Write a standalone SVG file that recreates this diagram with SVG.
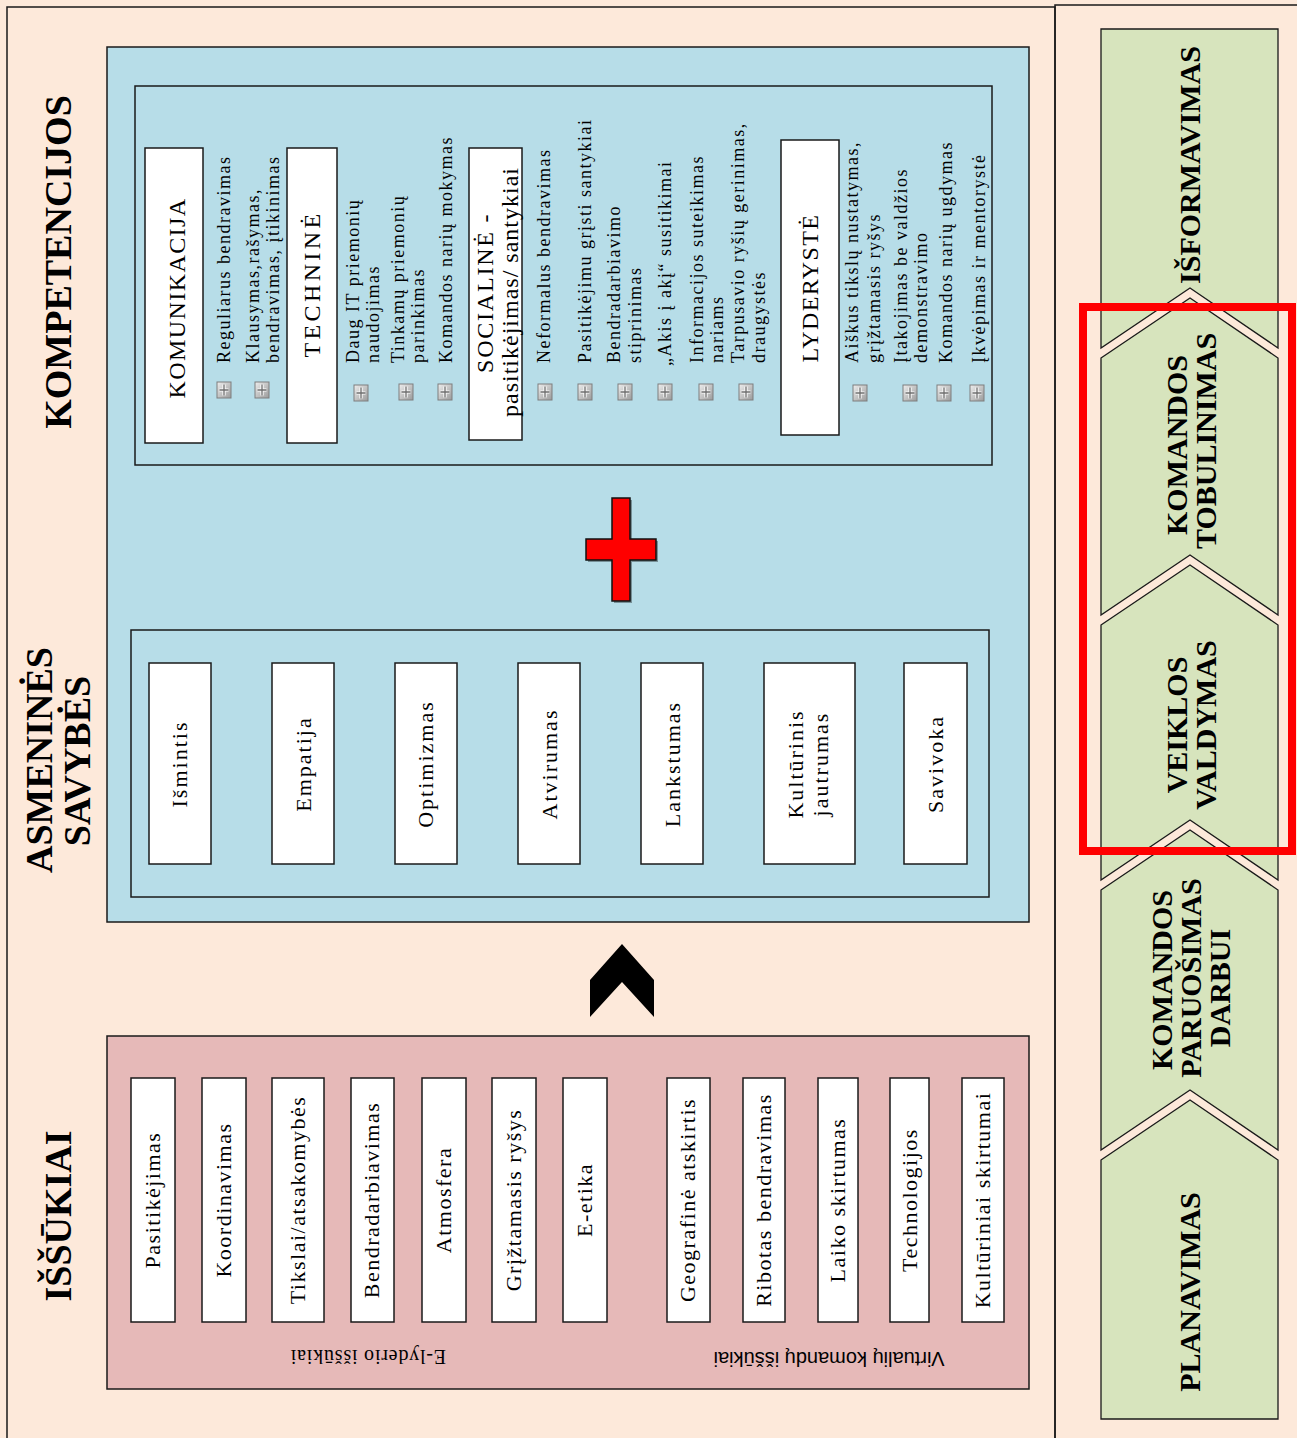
<svg xmlns="http://www.w3.org/2000/svg" width="1297" height="1438" viewBox="0 0 1297 1438">
  <style>
    .serif { font-family: "Liberation Serif", "Times New Roman", serif; fill: #000; }
    .item { font-size: 18px; letter-spacing: 1.5px; }
    .hdr { font-size: 24px; letter-spacing: 1.4px; }
    .trait { font-size: 22px; letter-spacing: 2px; text-anchor: middle; }
    .chal { font-size: 22px; letter-spacing: 1.5px; text-anchor: middle; }
    .title { font-size: 38px; font-weight: bold; text-anchor: middle; }
    .step { font-size: 30px; font-weight: bold; text-anchor: middle; }
    .mid { text-anchor: middle; }
    .wbox { fill: #fff; stroke: #1a1a1a; stroke-width: 1.5; }
    .frame { fill: none; stroke: #1a1a1a; stroke-width: 1.5; }
    .stepShape { fill: #D7E4BD; stroke: #1a1a1a; stroke-width: 1.3; }
  </style>
  <defs>
    <linearGradient id="iconFill" x1="0" y1="0" x2="1" y2="1">
      <stop offset="0" stop-color="#eeeeee"/>
      <stop offset="1" stop-color="#9a9a9a"/>
    </linearGradient>
    <g id="plusIcon">
      <rect x="-7" y="-8" width="14" height="16" fill="url(#iconFill)" stroke="#7e7e7e" stroke-width="1"/>
      <path d="M-4.5 0H4.5M0 -5.5V5.5" stroke="#fdfdfd" stroke-width="3.2"/>
      <path d="M-4.5 0H4.5M0 -5.5V5.5" stroke="#6e6e6e" stroke-width="1.3"/>
    </g>
  </defs>

  <!-- page background -->
  <rect x="0" y="0" width="1297" height="1438" fill="#FDE9DA"/>
  <rect x="7" y="7" width="1048" height="1440" class="frame"/>
  <rect x="1055" y="5" width="250" height="1440" class="frame"/>

  <!-- side titles -->
  <g id="titles">
    <text class="serif title" transform="translate(71,262) rotate(-90)">KOMPETENCIJOS</text>
    <text class="serif title" transform="translate(52,760) rotate(-90)">ASMENINĖS</text>
    <text class="serif title" transform="translate(90,761) rotate(-90)">SAVYBĖS</text>
    <text class="serif title" transform="translate(71,1216) rotate(-90)">IŠŠŪKIAI</text>
  </g>

  <!-- blue panel: competencies and personal traits -->
  <g id="panel-blue">
    <rect x="107" y="47" width="922" height="875" fill="#B7DDE8" stroke="#1a1a1a" stroke-width="1.5"/>
  </g>

  <g id="competencies">
    <rect x="135" y="86" width="857" height="379" class="frame"/>

    <g id="komunikacija">
      <rect x="145" y="148" width="58" height="295" class="wbox"/>
      <text class="serif hdr mid" transform="translate(185,298) rotate(-90)">KOMUNIKACIJA</text>
      <use href="#plusIcon" x="224" y="390"/>
      <text class="serif item" transform="translate(230,363) rotate(-90)">Reguliarus bendravimas</text>
      <use href="#plusIcon" x="262" y="390"/>
      <text class="serif item" transform="translate(259,363) rotate(-90)">Klausymas,rašymas,</text>
      <text class="serif item" transform="translate(279,363) rotate(-90)">bendravimas, įtikinimas</text>
    </g>

    <g id="technine">
      <rect x="287" y="148" width="50" height="295" class="wbox"/>
      <text class="serif hdr mid" transform="translate(320,285) rotate(-90)" textLength="145" lengthAdjust="spacing">TECHNINĖ</text>
      <use href="#plusIcon" x="361" y="393"/>
      <text class="serif item" transform="translate(359,363) rotate(-90)">Daug IT priemonių</text>
      <text class="serif item" transform="translate(379,363) rotate(-90)">naudojimas</text>
      <use href="#plusIcon" x="406" y="392"/>
      <text class="serif item" transform="translate(404,363) rotate(-90)">Tinkamų priemonių</text>
      <text class="serif item" transform="translate(424,363) rotate(-90)">parinkimas</text>
      <use href="#plusIcon" x="445" y="392"/>
      <text class="serif item" transform="translate(452,363) rotate(-90)">Komandos narių mokymas</text>
    </g>

    <g id="socialine">
      <rect x="469" y="148" width="53" height="292" class="wbox"/>
      <text class="serif hdr mid" transform="translate(493,293) rotate(-90)" textLength="160" lengthAdjust="spacing">SOCIALINĖ -</text>
      <text class="serif hdr mid" transform="translate(518,292) rotate(-90)" style="letter-spacing:1px">pasitikėjimas/ santykiai</text>
      <use href="#plusIcon" x="545" y="392"/>
      <text class="serif item" transform="translate(550,363) rotate(-90)">Neformalus bendravimas</text>
      <use href="#plusIcon" x="585" y="392"/>
      <text class="serif item" transform="translate(591,363) rotate(-90)">Pasitikėjimu grįsti santykiai</text>
      <use href="#plusIcon" x="625" y="392"/>
      <text class="serif item" transform="translate(620,363) rotate(-90)">Bendradarbiavimo</text>
      <text class="serif item" transform="translate(641,363) rotate(-90)">stiprinimas</text>
      <use href="#plusIcon" x="665" y="392"/>
      <text class="serif item" transform="translate(671,366) rotate(-90)">„Akis į akį“ susitikimai</text>
      <use href="#plusIcon" x="706" y="392"/>
      <text class="serif item" transform="translate(703,363) rotate(-90)">Informacijos suteikimas</text>
      <text class="serif item" transform="translate(723,363) rotate(-90)">nariams</text>
      <use href="#plusIcon" x="746" y="392"/>
      <text class="serif item" transform="translate(744,363) rotate(-90)">Tarpusavio ryšių gerinimas,</text>
      <text class="serif item" transform="translate(765,363) rotate(-90)">draugystės</text>
    </g>

    <g id="lyderyste">
      <rect x="781" y="140" width="58" height="295" class="wbox"/>
      <text class="serif hdr mid" transform="translate(818,288) rotate(-90)">LYDERYSTĖ</text>
      <use href="#plusIcon" x="860" y="393"/>
      <text class="serif item" transform="translate(858,363) rotate(-90)">Aiškus tikslų nustatymas,</text>
      <text class="serif item" transform="translate(880,363) rotate(-90)">grįžtamasis ryšys</text>
      <use href="#plusIcon" x="910" y="393"/>
      <text class="serif item" transform="translate(907,363) rotate(-90)">Įtakojimas be valdžios</text>
      <text class="serif item" transform="translate(927,363) rotate(-90)">demonstravimo</text>
      <use href="#plusIcon" x="944" y="393"/>
      <text class="serif item" transform="translate(952,363) rotate(-90)">Komandos narių ugdymas</text>
      <use href="#plusIcon" x="977" y="393"/>
      <text class="serif item" transform="translate(985,363) rotate(-90)">Įkvėpimas ir mentorystė</text>
    </g>
  </g>

  <!-- red plus sign -->
  <g id="plus-sign">
    <path d="M614,500H632V541H658V562H632V603H614V562H588V541H614Z" fill="#000" opacity="0.35"/>
    <path d="M612,498H630V539H656V560H630V601H612V560H586V539H612Z" fill="#FF0000" stroke="#111" stroke-width="1.5"/>
  </g>

  <g id="traits">
    <rect x="131" y="630" width="858" height="267" class="frame"/>
    <g id="ismintis"><rect x="149" y="663" width="62" height="201" class="wbox"/><text class="serif trait" transform="translate(187,764) rotate(-90)">Išmintis</text></g>
    <g id="empatija"><rect x="272" y="663" width="62" height="201" class="wbox"/><text class="serif trait" transform="translate(311,764) rotate(-90)">Empatija</text></g>
    <g id="optimizmas"><rect x="395" y="663" width="62" height="201" class="wbox"/><text class="serif trait" transform="translate(433,764) rotate(-90)">Optimizmas</text></g>
    <g id="atvirumas"><rect x="518" y="663" width="62" height="201" class="wbox"/><text class="serif trait" transform="translate(557,764) rotate(-90)">Atvirumas</text></g>
    <g id="lankstumas"><rect x="641" y="663" width="62" height="201" class="wbox"/><text class="serif trait" transform="translate(680,764) rotate(-90)">Lankstumas</text></g>
    <g id="kulturinis"><rect x="764" y="663" width="91" height="201" class="wbox"/><text class="serif trait" transform="translate(803,764) rotate(-90)">Kultūrinis</text><text class="serif trait" transform="translate(828,764) rotate(-90)">jautrumas</text></g>
    <g id="savivoka"><rect x="904" y="663" width="63" height="201" class="wbox"/><text class="serif trait" transform="translate(943,764) rotate(-90)">Savivoka</text></g>
  </g>

  <!-- connector: challenges lead up to the qualities -->
  <g id="connectors">
    <polygon points="622,944 654,980 654,1017 622,982 590,1017 590,980" fill="#000"/>
  </g>

  <g id="challenges">
    <rect x="107" y="1036" width="922" height="353" fill="#E6B9B8" stroke="#1a1a1a" stroke-width="1.5"/>
    <g id="ch1"><rect x="131" y="1078" width="44" height="244" class="wbox"/><text class="serif chal" transform="translate(160,1200) rotate(-90)">Pasitikėjimas</text></g>
    <g id="ch2"><rect x="202" y="1078" width="44" height="244" class="wbox"/><text class="serif chal" transform="translate(231,1200) rotate(-90)">Koordinavimas</text></g>
    <g id="ch3"><rect x="272" y="1078" width="52" height="244" class="wbox"/><text class="serif chal" transform="translate(305,1200) rotate(-90)">Tikslai/atsakomybės</text></g>
    <g id="ch4"><rect x="351" y="1078" width="43" height="244" class="wbox"/><text class="serif chal" transform="translate(379,1200) rotate(-90)">Bendradarbiavimas</text></g>
    <g id="ch5"><rect x="422" y="1078" width="44" height="244" class="wbox"/><text class="serif chal" transform="translate(451,1200) rotate(-90)">Atmosfera</text></g>
    <g id="ch6"><rect x="492" y="1078" width="44" height="244" class="wbox"/><text class="serif chal" transform="translate(521,1200) rotate(-90)">Grįžtamasis ryšys</text></g>
    <g id="ch7"><rect x="563" y="1078" width="44" height="244" class="wbox"/><text class="serif chal" transform="translate(592,1200) rotate(-90)">E-etika</text></g>
    <g id="ch8"><rect x="667" y="1078" width="43" height="244" class="wbox"/><text class="serif chal" transform="translate(695,1200) rotate(-90)">Geografinė atskirtis</text></g>
    <g id="ch9"><rect x="743" y="1078" width="42" height="244" class="wbox"/><text class="serif chal" transform="translate(771,1200) rotate(-90)">Ribotas bendravimas</text></g>
    <g id="ch10"><rect x="818" y="1078" width="40" height="244" class="wbox"/><text class="serif chal" transform="translate(845,1200) rotate(-90)">Laiko skirtumas</text></g>
    <g id="ch11"><rect x="890" y="1078" width="39" height="244" class="wbox"/><text class="serif chal" transform="translate(917,1200) rotate(-90)">Technologijos</text></g>
    <g id="ch12"><rect x="962" y="1078" width="42" height="244" class="wbox"/><text class="serif chal" transform="translate(990,1200) rotate(-90)">Kultūriniai skirtumai</text></g>
    <text class="serif mid" font-size="20" letter-spacing="0.8" transform="translate(368,1350) rotate(180)">E-lyderio iššūkiai</text>
    <text class="mid" font-family="'Liberation Sans', Arial, sans-serif" font-size="20" transform="translate(829,1352) rotate(180)">Virtualių komandų iššūkiai</text>
  </g>

  <!-- process steps -->
  <g id="steps">
    <g id="step-isformavimas">
      <path class="stepShape" d="M1101,29H1278V348L1190,288L1101,348Z"/>
      <text class="serif step" transform="translate(1200,165) rotate(-90)">IŠFORMAVIMAS</text>
    </g>
    <g id="step-tobulinimas">
      <path class="stepShape" d="M1101,358L1190,298L1278,358V615L1190,555L1101,615Z"/>
      <text class="serif step" transform="translate(1187,445) rotate(-90)">KOMANDOS</text>
      <text class="serif step" transform="translate(1216,441) rotate(-90)">TOBULINIMAS</text>
    </g>
    <g id="step-valdymas">
      <path class="stepShape" d="M1101,625L1190,565L1278,625V880L1190,820L1101,880Z"/>
      <text class="serif step" transform="translate(1187,725) rotate(-90)">VEIKLOS</text>
      <text class="serif step" transform="translate(1216,725) rotate(-90)">VALDYMAS</text>
    </g>
    <g id="step-paruosimas">
      <path class="stepShape" d="M1101,890L1190,830L1278,890V1150L1190,1090L1101,1150Z"/>
      <text class="serif step" transform="translate(1172,980) rotate(-90)">KOMANDOS</text>
      <text class="serif step" transform="translate(1201,978) rotate(-90)">PARUOŠIMAS</text>
      <text class="serif step" transform="translate(1230,988) rotate(-90)">DARBUI</text>
    </g>
    <g id="step-planavimas">
      <path class="stepShape" d="M1101,1160L1190,1100L1278,1160V1419H1101Z"/>
      <text class="serif step" transform="translate(1200,1292) rotate(-90)">PLANAVIMAS</text>
    </g>
  </g>

  <!-- highlight around the middle steps -->
  <rect id="highlight" x="1083" y="307" width="209" height="544" fill="none" stroke="#FF0000" stroke-width="8"/>
</svg>
